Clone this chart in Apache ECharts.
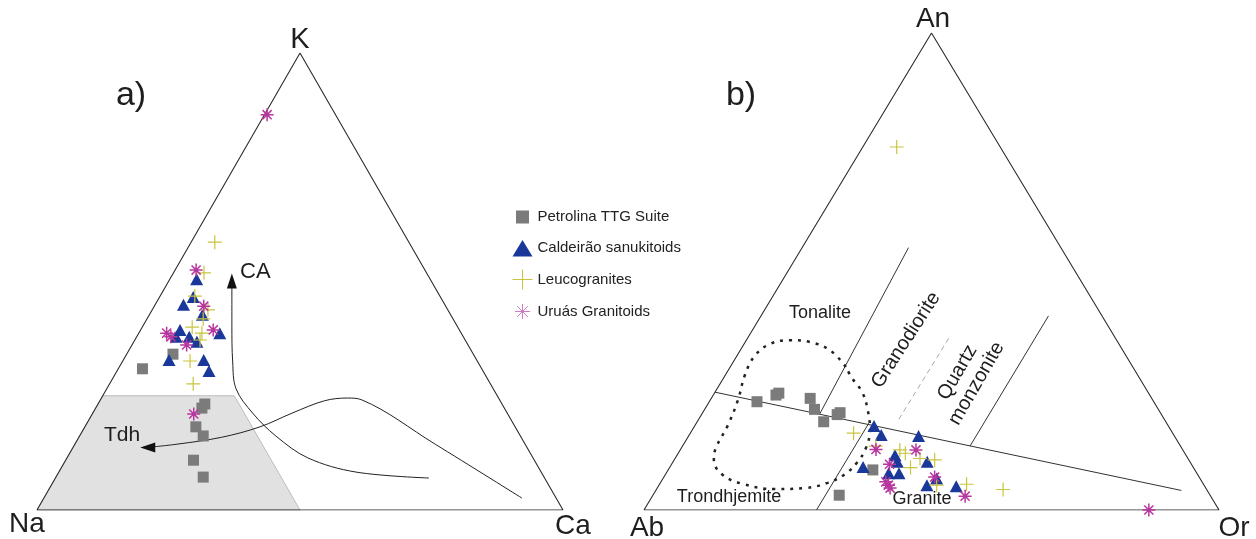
<!DOCTYPE html>
<html>
<head>
<meta charset="utf-8">
<script src="https://cdn.jsdelivr.net/npm/echarts@6/dist/echarts.min.js"></script>
<style>
  html, body { margin: 0; padding: 0; background: #fff; }
  #chart { width: 1256px; height: 539px; }
</style>
</head>
<body>
<div id="chart"></div>
<script>
// Compositions in percent, ordered [bottom-left, apex, bottom-right].
// Panel a: [Na, K, Ca]
const petrolinaA = [[57.1,34.1,8.8],[64.5,30.9,4.6],[56.5,23.2,20.3],[57.5,22.3,20.2],[60.7,18.2,21.1],[60.3,16.2,23.5],[64.8,10.9,24.3],[64.8,7.2,28.0]];
const caldeiraoA = [[44.4,50.5,5.1],[49.7,44.9,5.4],[47.0,46.6,6.4],[47.2,42.7,10.1],[53.1,39.4,7.5],[54.6,37.9,7.5],[52.1,37.9,10.0],[51.2,36.8,12.0],[45.9,38.7,15.4],[58.5,32.8,8.7],[51.9,32.8,15.3],[52.1,30.4,17.5]];
const leucograniteA = [[36.9,58.6,4.5],[42.3,51.9,5.8],[46.6,46.8,6.6],[45.6,43.8,10.6],[47.5,41.8,10.7],[50.5,40.0,9.5],[49.3,38.7,12.0],[50.4,37.2,12.4],[54.6,32.6,12.8],[56.5,27.6,15.9]];
const uruasA = [[13.0,86.5,0.5],[43.5,52.5,4.0],[46.0,44.6,9.4],[56.0,38.7,5.3],[55.6,37.9,6.5],[46.8,39.4,13.8],[53.5,36.1,10.4],[59.7,21.0,19.3]];

// Panel b: [Ab, An, Or]
const petrolinaB = [[69.0,22.7,8.3],[64.3,24.5,11.2],[65.0,24.1,10.9],[59.4,23.4,17.2],[59.8,21.1,19.1],[59.5,18.5,22.0],[55.7,20.4,23.9],[56.4,20.0,23.6],[56.0,8.4,35.6],[64.5,3.1,32.4]];
const caldeiraoB = [[51.2,17.6,31.2],[50.9,15.7,33.4],[44.5,15.5,40.0],[50.6,11.5,37.9],[50.9,10.1,39.0],[57.4,9.0,33.6],[53.6,7.7,38.7],[51.8,7.7,40.5],[45.7,10.1,44.2],[45.8,6.6,47.6],[48.2,5.2,46.6],[43.2,5.0,51.8]];
const leucograniteB = [[18.0,76.1,5.9],[55.5,16.1,28.4],[49.2,12.6,38.2],[48.6,11.9,39.5],[46.6,10.8,42.6],[44.2,10.5,45.3],[49.2,8.9,41.9],[46.5,5.2,48.3],[41.2,5.4,53.4],[35.4,4.3,60.3],[53.0,13.4,33.6]];
const uruasB = [[53.3,12.7,34.0],[46.4,12.6,41.0],[52.5,9.6,37.9],[46.0,6.9,47.1],[54.9,5.2,39.9],[55.0,5.9,39.1],[54.9,4.6,40.5],[42.7,2.9,54.4],[12.2,0.0,87.8]];

// Reference fields and trends, panel a
const tdhField = [[75,25,0],[50,25,25],[50,0,50],[100,0,0]];
const caTrend = [[22.0,7.0,71.0],[35.2,8.3,56.5],[42.8,11.4,45.8],[46.5,16.2,37.3],[48.4,21.2,30.4],[48.9,26.5,24.6],[46.6,32.4,21.0],[42.7,40.5,16.8],[37.9,50.1,12.0]];
const tdhTrend = [[6.5,2.6,90.9],[17.1,14.4,68.5],[26.2,24.1,49.7],[28.7,24.5,46.8],[33.4,23.9,42.7],[40.9,21.2,37.9],[48.5,18.2,33.3],[57.0,15.9,27.1],[66.2,14.4,19.4],[72.1,13.7,14.2]];

// Field boundaries, panel b
const anLine = [[75.3,24.7,0],[4.5,4.1,91.4]];
const tonaliteLine = [[26.5,55.0,18.5],[59.5,20.0,20.5]];
const graniteLine = [[51.8,18.2,30.0],[70.0,0,30.0]];
const monzoniteLine = [[9.3,40.7,50.0],[36.6,13.4,50.0]];
const dashedLine = [[29.0,36.0,35.0],[46.8,18.4,34.8]];
const ttgField = [[49.9,30.0,20.1],[50.9,33.5,15.6],[53.5,35.2,11.3],[56.8,35.6,7.6],[60.7,34.8,4.5],[64.6,32.3,3.1],[68.3,28.3,3.4],[72.1,23.1,4.8],[76.5,17.8,5.7],[81.0,13.0,6.0],[82.6,10.5,6.9],[82.7,7.5,9.8],[80.2,5.5,14.3],[75.0,4.4,20.6],[69.7,4.6,25.7],[65.2,5.7,29.1],[61.3,7.5,31.2],[57.8,10.1,32.1],[54.9,13.0,32.1],[52.3,16.8,30.9],[50.6,21.0,28.4],[49.7,24.7,25.6],[50.0,27.7,22.3],[49.9,30.0,20.1]];

const corners = [[100,0,0],[0,100,0],[0,0,100],[100,0,0]];
const seriesNames = ['Petrolina TTG Suite', 'Caldeirão sanukitoids', 'Leucogranites', 'Uruás Granitoids'];

const FONT = "'Liberation Sans', Arial, sans-serif";
const GRAY = '#7b7b7b', BLUE = '#1a3899', YELLOW = '#c9c53e', MAGENTA = '#b8369f';
const PLUS = 'path://M0,5L10,5M5,0L5,10';
const STAR = 'path://M5,0L5,10M0,5L10,5M1.5,1.5L8.5,8.5M8.5,1.5L1.5,8.5';

// ternary -> cartesian fraction inside the triangle's bounding box
function toXY(p) {
  const s = p[0] + p[1] + p[2];
  return [(p[2] + p[1] / 2) / s, p[1] / s];
}

function lineSeries(idx, pts, style, extra) {
  return Object.assign({
    type: 'line', xAxisIndex: idx, yAxisIndex: idx, silent: true,
    symbol: 'none', data: pts.map(toXY), lineStyle: style, z: 3
  }, extra || {});
}

function arrowSeries(idx, pts, rotate) {
  const data = pts.map((p, i) => i === pts.length - 1
    ? { value: toXY(p), symbol: 'triangle', symbolSize: [10, 15], symbolRotate: rotate }
    : { value: toXY(p), symbol: 'none' });
  return {
    type: 'line', xAxisIndex: idx, yAxisIndex: idx, silent: true, smooth: 0.35,
    showSymbol: true, data, itemStyle: { color: '#111', opacity: 1 },
    lineStyle: { color: '#222', width: 1 }, z: 4
  };
}

function polygonSeries(idx, pts, style) {
  return {
    type: 'custom', coordinateSystem: 'cartesian2d', xAxisIndex: idx, yAxisIndex: idx,
    silent: true, z: 1, data: [[0, 0]],
    renderItem: (params, api) => ({
      type: 'polygon',
      shape: { points: pts.map(p => api.coord(toXY(p))) },
      style: style
    })
  };
}

function pointSeries(idx, name, pts) {
  const base = { type: 'scatter', name, xAxisIndex: idx, yAxisIndex: idx, data: pts.map(toXY), z: 5 };
  if (name === seriesNames[0]) return Object.assign(base, { symbol: 'rect', symbolSize: 11, itemStyle: { color: GRAY, opacity: 1 } });
  if (name === seriesNames[1]) return Object.assign(base, { symbol: 'triangle', symbolSize: [13, 12], itemStyle: { color: BLUE, opacity: 1 }, z: 6 });
  if (name === seriesNames[2]) return Object.assign(base, { symbol: PLUS, symbolSize: 14, itemStyle: { color: 'transparent', borderColor: YELLOW, borderWidth: 1.2, opacity: 1 }, z: 7 });
  return Object.assign(base, { symbol: STAR, symbolSize: 13, itemStyle: { color: 'transparent', borderColor: MAGENTA, borderWidth: 1.5, opacity: 1 }, z: 8 });
}

function text(x, y, str, size, opts) {
  const o = opts || {};
  const el = {
    type: 'text', x, y, z: 100, silent: true,
    style: Object.assign({ text: str, fill: '#1e1e1e', font: size + 'px ' + FONT, align: 'center', verticalAlign: 'middle' }, o.style || {})
  };
  if (o.rotation !== undefined) el.rotation = o.rotation;
  return el;
}

const deg = Math.PI / 180;
const chart = echarts.init(document.getElementById('chart'), null, { renderer: 'canvas' });

const axis = { type: 'value', min: 0, max: 1, show: false };

chart.setOption({
  animation: false,
  backgroundColor: '#ffffff',
  grid: [
    { left: 37, top: 53, width: 526, height: 457 },
    { left: 644, top: 33, width: 575, height: 477 }
  ],
  xAxis: [Object.assign({ gridIndex: 0 }, axis), Object.assign({ gridIndex: 1 }, axis)],
  yAxis: [Object.assign({ gridIndex: 0 }, axis), Object.assign({ gridIndex: 1 }, axis)],
  legend: {
    orient: 'vertical', left: 507, top: 202, itemWidth: 20, itemHeight: 20, itemGap: 11,
    selectedMode: false,
    textStyle: { fontSize: 15, color: '#222', fontFamily: FONT },
    data: [
      { name: seriesNames[0], icon: 'path://M0,0M20,20M3.5,3.5L16.5,3.5L16.5,16.5L3.5,16.5Z', itemStyle: { color: GRAY, borderWidth: 0, opacity: 1 } },
      { name: seriesNames[1], icon: 'path://M0,0M20,20M10,2L20,18.5L0,18.5Z', itemStyle: { color: BLUE, borderWidth: 0, opacity: 1 } },
      { name: seriesNames[2], icon: 'path://M0,10L20,10M10,0L10,20', itemStyle: { color: 'transparent', borderColor: YELLOW, borderWidth: 1, opacity: 1 } },
      { name: seriesNames[3], icon: 'path://M0,0M20,20M10,2.5L10,17.5M2.5,10L17.5,10M4.7,4.7L15.3,15.3M15.3,4.7L4.7,15.3', itemStyle: { color: 'transparent', borderColor: '#cf7cc3', borderWidth: 1, opacity: 1 } }
    ]
  },
  graphic: [
    text(131, 96, 'a)', 34),
    text(300, 40, 'K', 29),
    text(27, 524, 'Na', 28),
    text(573, 526, 'Ca', 28),
    text(741, 96, 'b)', 34),
    text(933, 19, 'An', 28),
    text(647, 528, 'Ab', 28),
    text(1234, 528, 'Or', 28),
    text(240, 272, 'CA', 22, { style: { align: 'left' } }),
    text(104, 435, 'Tdh', 21, { style: { align: 'left' } }),
    text(820, 313, 'Tonalite', 18),
    text(729, 497, 'Trondhjemite', 18),
    text(922, 499, 'Granite', 18),
    text(906, 340, 'Granodiorite', 20, { rotation: 57 * deg }),
    text(967, 378, 'Quartz\nmonzonite', 20, { rotation: 60 * deg, style: { lineHeight: 22 } })
  ],
  series: [
    // panel a
    polygonSeries(0, tdhField, { fill: '#e1e1e1', stroke: '#bdbdbd', lineWidth: 1 }),
    lineSeries(0, corners, { color: '#2b2b2b', width: 1.1 }),
    arrowSeries(0, caTrend, 0),
    arrowSeries(0, tdhTrend, 90),
    pointSeries(0, seriesNames[0], petrolinaA),
    pointSeries(0, seriesNames[1], caldeiraoA),
    pointSeries(0, seriesNames[2], leucograniteA),
    pointSeries(0, seriesNames[3], uruasA),
    // panel b
    lineSeries(1, corners, { color: '#2b2b2b', width: 1.1 }),
    lineSeries(1, anLine, { color: '#333', width: 1 }),
    lineSeries(1, tonaliteLine, { color: '#333', width: 1 }),
    lineSeries(1, graniteLine, { color: '#333', width: 1 }),
    lineSeries(1, monzoniteLine, { color: '#333', width: 1 }),
    lineSeries(1, dashedLine, { color: '#a8a8a8', width: 1, type: [5, 4] }),
    lineSeries(1, ttgField, { color: '#222', width: 2.5, type: [3, 6] }, { smooth: 0.4 }),
    pointSeries(1, seriesNames[0], petrolinaB),
    pointSeries(1, seriesNames[1], caldeiraoB),
    pointSeries(1, seriesNames[2], leucograniteB),
    pointSeries(1, seriesNames[3], uruasB)
  ]
});
</script>
</body>
</html>
